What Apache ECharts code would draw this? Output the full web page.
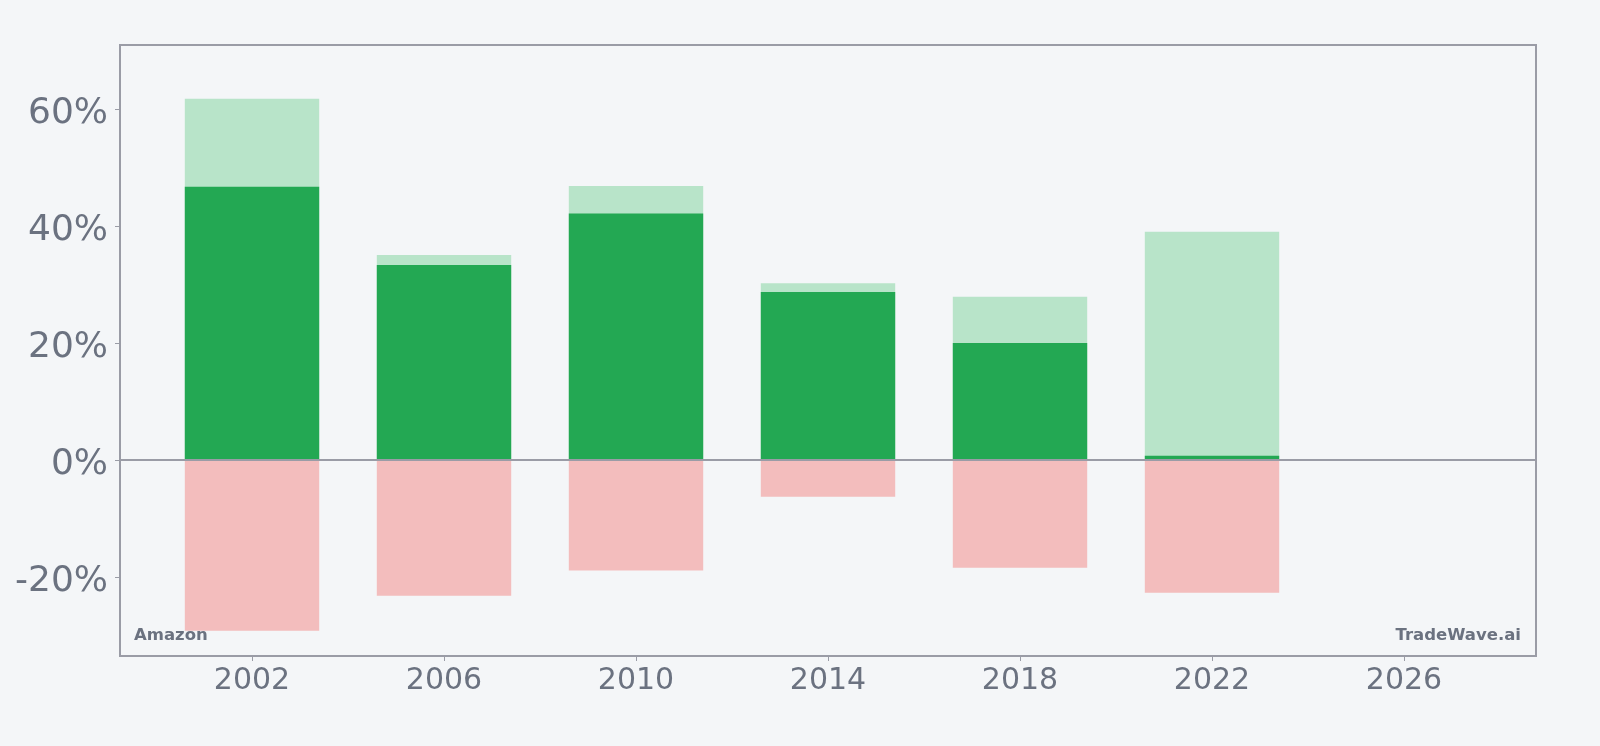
<!DOCTYPE html>
<html>
<head>
<meta charset="utf-8">
<script src="https://cdn.jsdelivr.net/npm/echarts@6/dist/echarts.min.js"></script>
<style>
html,body{margin:0;padding:0;background:#f4f6f8;}
#chart{width:1600px;height:746px;}
</style>
</head>
<body>
<div id="chart"></div>
<script>
const years = [2002, 2006, 2010, 2014, 2018, 2022];
const maxGain = [61.7, 35.0, 46.8, 30.2, 27.9, 39.0];
const endReturn = [46.7, 33.3, 42.1, 28.7, 20.0, 0.7];
const maxLoss = [-29.2, -23.2, -18.9, -6.3, -18.4, -22.7];
const xTicks = [2002, 2006, 2010, 2014, 2018, 2022, 2026];
const yTicks = [-20, 0, 20, 40, 60];

const textColor = '#6b7280';
const axisColor = '#9a9ca6';
const font = 'DejaVu Sans';

const pairs = arr => years.map((y, i) => [y, arr[i]]);

const chart = echarts.init(document.getElementById('chart'));
chart.setOption({
  backgroundColor: '#f4f6f8',
  animation: false,
  grid: {left: 120, top: 45, right: 64, bottom: 90, show: true, borderColor: axisColor, borderWidth: 2, backgroundColor: 'transparent'},
  xAxis: {
    type: 'value', min: 1999.25, max: 2028.75,
    axisLine: {show: false, onZero: false},
    splitLine: {show: false},
    axisTick: {show: true, length: 5, lineStyle: {color: axisColor, width: 1}, customValues: xTicks},
    axisLabel: {customValues: xTicks, color: textColor, fontSize: 30, fontFamily: font, margin: 10, formatter: v => String(v)}
  },
  yAxis: {
    type: 'value', min: -33.5, max: 70.9,
    axisLine: {show: false, onZero: false},
    splitLine: {show: false},
    axisTick: {show: true, length: 5, lineStyle: {color: axisColor, width: 1}, customValues: yTicks},
    axisLabel: {customValues: yTicks, color: textColor, fontSize: 36, fontFamily: font, margin: 12, verticalAlign: 'top', lineHeight: 10, formatter: v => v + '%'}
  },
  series: [
    {type: 'bar', name: 'max', data: pairs(maxGain), barWidth: '70%', barGap: '-100%', itemStyle: {color: '#b8e4c9'}, z: 2},
    {type: 'bar', name: 'end', data: pairs(endReturn), barWidth: '70%', barGap: '-100%', itemStyle: {color: '#23a853'}, z: 3},
    {type: 'bar', name: 'loss', data: pairs(maxLoss), barWidth: '70%', barGap: '-100%', itemStyle: {color: '#f3bdbd'}, z: 2,
     markLine: {silent: true, symbol: 'none', label: {show: false}, lineStyle: {color: axisColor, width: 2, type: 'solid'}, data: [{yAxis: 0}], z: 5}}
  ],
  graphic: [
    {type: 'text', left: 134, top: 627, style: {text: 'Amazon', fill: textColor, font: 'bold 16.5px "DejaVu Sans"'}},
    {type: 'text', right: 79, top: 627, style: {text: 'TradeWave.ai', fill: textColor, font: 'bold 16.5px "DejaVu Sans"'}}
  ]
});
</script>
</body>
</html>
